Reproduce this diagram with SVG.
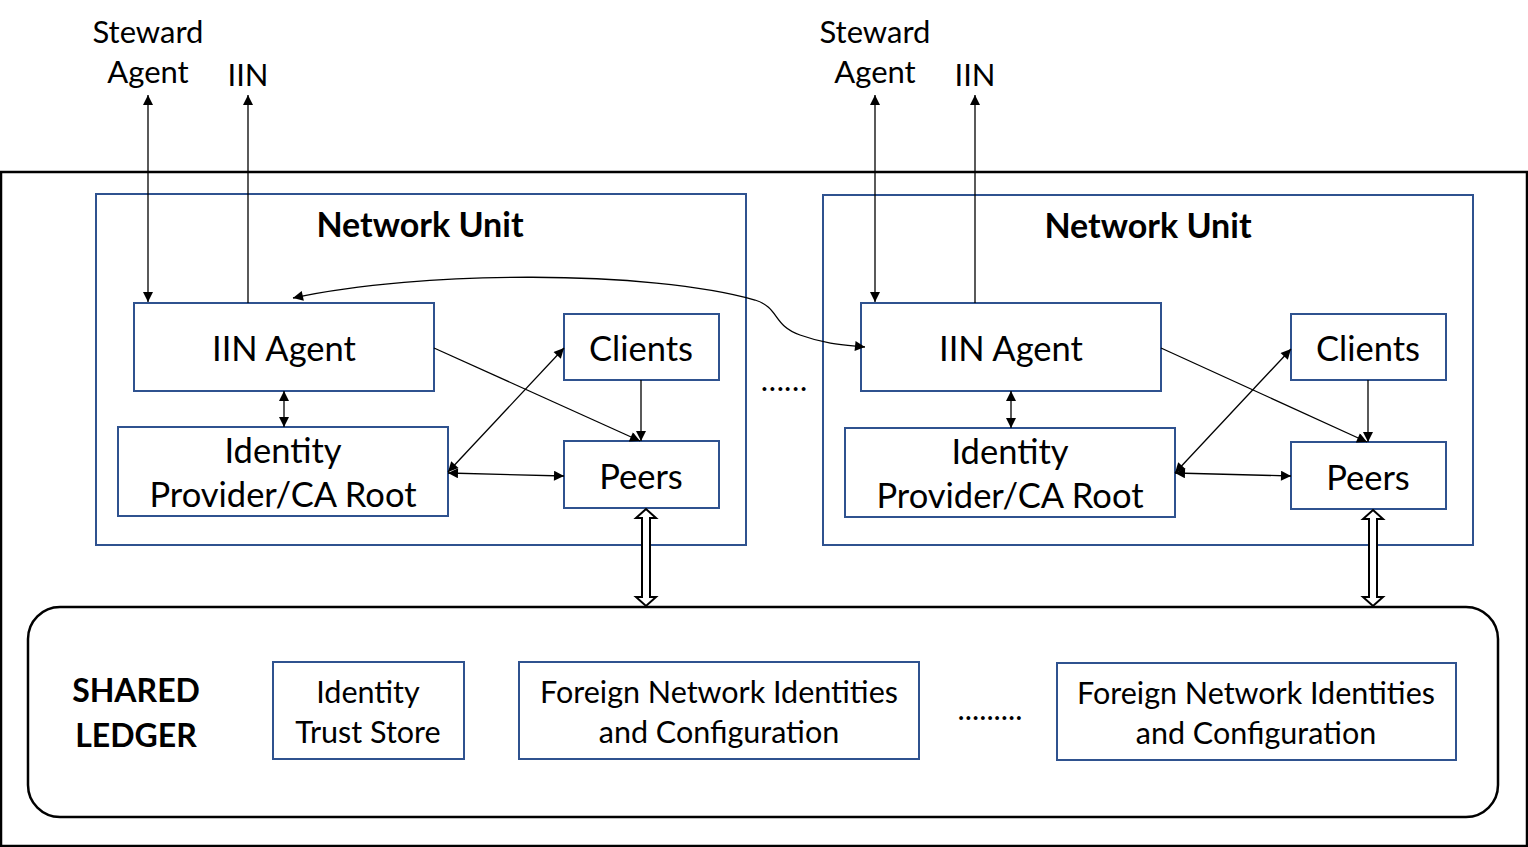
<svg xmlns="http://www.w3.org/2000/svg" width="1528" height="847" viewBox="0 0 1528 847">
<style>
text{font-family:Lato,"Liberation Sans",sans-serif;fill:#000;text-anchor:middle}
.box{fill:#fff;stroke:#2F528F;stroke-width:2}
.unit{fill:none;stroke:#2F528F;stroke-width:2}
.lbl{font-size:34.5px}
.sm{font-size:30.5px}
.top{font-size:31px}
.title{font-size:34px;font-weight:bold}
.big{font-size:32px;font-weight:bold}
.ln{stroke:#000;stroke-width:1.3;fill:none}
.dbl{fill:#fff;stroke:#000;stroke-width:2}
</style>
<defs>
<marker id="ah" viewBox="0 0 10 10" refX="10" refY="5" markerWidth="12" markerHeight="10" markerUnits="userSpaceOnUse" orient="auto-start-reverse"><path d="M0,0 L10,5 L0,10 z" fill="#000"/></marker>
</defs>
<rect x="0" y="0" width="1528" height="847" fill="#fff"/>
<g id="outer"><rect x="1" y="172" width="1526" height="674" fill="none" stroke="#000" stroke-width="2.5"/></g>
<g id="unit1">
<rect class="unit" x="96" y="194" width="650" height="351"/>
<text class="title" x="420" y="237">Network Unit</text>
</g>
<g id="unit2">
<rect class="unit" x="823" y="195" width="650" height="350"/>
<text class="title" x="1148" y="238">Network Unit</text>
</g>
<g id="iin1"><rect class="box" x="134" y="303" width="300" height="88"/><text class="lbl" x="284" y="361">IIN Agent</text></g>
<g id="idp1"><rect class="box" x="118" y="427" width="330" height="89"/><text class="lbl" x="283" y="463">Identity</text><text class="lbl" x="283" y="507">Provider/CA Root</text></g>
<g id="clients1"><rect class="box" x="564" y="314" width="155" height="66"/><text class="lbl" x="641" y="361">Clients</text></g>
<g id="peers1"><rect class="box" x="564" y="441" width="155" height="67"/><text class="lbl" x="641" y="489">Peers</text></g>
<g id="iin2"><rect class="box" x="861" y="303" width="300" height="88"/><text class="lbl" x="1011" y="361">IIN Agent</text></g>
<g id="idp2"><rect class="box" x="845" y="428" width="330" height="89"/><text class="lbl" x="1010" y="464">Identity</text><text class="lbl" x="1010" y="508">Provider/CA Root</text></g>
<g id="clients2"><rect class="box" x="1291" y="314" width="155" height="66"/><text class="lbl" x="1368" y="361">Clients</text></g>
<g id="peers2"><rect class="box" x="1291" y="442" width="155" height="67"/><text class="lbl" x="1368" y="490">Peers</text></g>
<g id="ext-labels">
<text class="top" x="148" y="43">Steward</text><text class="top" x="148" y="83">Agent</text><text class="top" x="248" y="86">IIN</text>
<text class="top" x="875" y="43">Steward</text><text class="top" x="875" y="83">Agent</text><text class="top" x="975" y="86">IIN</text>
<text class="top" x="784" y="391">……</text>
</g>
<g id="ledger">
<rect x="28" y="607" width="1470" height="210" rx="32" fill="none" stroke="#000" stroke-width="2.5"/>
<text class="big" x="136" y="702">SHARED</text><text class="big" x="136" y="747">LEDGER</text>
<text class="sm" x="990" y="720">.........</text>
</g>
<g id="trust"><rect class="box" x="273" y="662" width="191" height="97"/><text class="sm" x="368" y="703">Identity</text><text class="sm" x="368" y="743">Trust Store</text></g>
<g id="foreign1"><rect class="box" x="519" y="662" width="400" height="97"/><text class="sm" x="719" y="703">Foreign Network Identities</text><text class="sm" x="719" y="743">and Configuration</text></g>
<g id="foreign2"><rect class="box" x="1057" y="663" width="399" height="97"/><text class="sm" x="1256" y="704">Foreign Network Identities</text><text class="sm" x="1256" y="744">and Configuration</text></g>
<g id="connectors">
<line class="ln" x1="148" y1="95" x2="148" y2="302" marker-start="url(#ah)" marker-end="url(#ah)"/>
<line class="ln" x1="248" y1="303" x2="248" y2="95" marker-end="url(#ah)"/>
<line class="ln" x1="875" y1="95" x2="875" y2="302" marker-start="url(#ah)" marker-end="url(#ah)"/>
<line class="ln" x1="975" y1="303" x2="975" y2="95" marker-end="url(#ah)"/>
<line class="ln" x1="284" y1="391" x2="284" y2="427" marker-start="url(#ah)" marker-end="url(#ah)"/>
<line class="ln" x1="1011" y1="391" x2="1011" y2="428" marker-start="url(#ah)" marker-end="url(#ah)"/>
<line class="ln" x1="434" y1="348" x2="640" y2="441" marker-end="url(#ah)"/>
<line class="ln" x1="1161" y1="348" x2="1367" y2="442" marker-end="url(#ah)"/>
<line class="ln" x1="641" y1="380" x2="641" y2="441" marker-end="url(#ah)"/>
<line class="ln" x1="1368" y1="380" x2="1368" y2="442" marker-end="url(#ah)"/>
<line class="ln" x1="448" y1="472" x2="564" y2="348" marker-start="url(#ah)" marker-end="url(#ah)"/>
<line class="ln" x1="1175" y1="473" x2="1291" y2="349" marker-start="url(#ah)" marker-end="url(#ah)"/>
<line class="ln" x1="448" y1="473" x2="564" y2="476" marker-start="url(#ah)" marker-end="url(#ah)"/>
<line class="ln" x1="1175" y1="473" x2="1291" y2="476" marker-start="url(#ah)" marker-end="url(#ah)"/>
<path class="ln" d="M293,298 C420,270 650,270 755,300 C780,308 772,325 800,335 S845,345 865,347" marker-start="url(#ah)" marker-end="url(#ah)"/>
<polygon class="dbl" points="646,509 656,518 650,518 650,597 656,597 646,606 636,597 642,597 642,518 636,518"/>
<polygon class="dbl" points="1373,510 1383,519 1377,519 1377,597 1383,597 1373,606 1363,597 1369,597 1369,519 1363,519"/>
</g>
</svg>
